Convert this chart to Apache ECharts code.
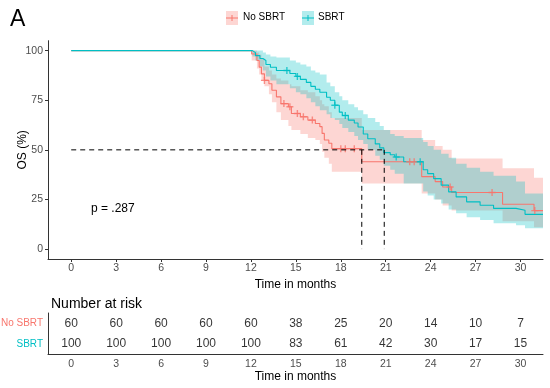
<!DOCTYPE html>
<html><head><meta charset="utf-8">
<script src="https://cdn.jsdelivr.net/npm/echarts@6/dist/echarts.min.js"></script>
<style>html,body{margin:0;padding:0;background:#fff}#c{width:550px;height:388px}</style>
</head><body><div id="c"></div>
<script>
// ---------- data ----------
const groupNames = ['No SBRT', 'SBRT'];
const endTime = 31.5;

const noTime  = [0, 12.05, 12.4, 12.55, 12.7, 12.9, 13.2, 13.4, 13.7, 14.0, 14.5, 14.7, 15.3, 15.8, 16.3, 16.6, 16.75, 16.9, 17.2, 17.4, 19.4, 23.4, 24.3, 24.8, 25.4, 28.8, 30.9];
const noSurv  = [100, 98.3, 95, 91.7, 88.3, 85, 83.3, 80, 76.7, 73.3, 71.7, 68.3, 66.7, 65, 63.3, 61.7, 58.3, 55, 53.3, 50.6, 44, 36.5, 34, 31.3, 28.5, 22.6, 19.4];
const noUpper = [100, 100, 99, 98, 96, 92, 90, 88, 86, 85, 83, 82, 80, 79, 77, 75, 73, 72, 69, 66, 60, 55, 52, 50, 45.7, 40.7, 36];
const noLower = [100, 95, 91, 88, 85, 82, 78, 74, 69, 65, 62, 60, 58, 56, 55, 53, 49, 46, 43, 39, 33, 28, 25, 22, 19.5, 14, 11];
const noCensor = [12.9, 14.2, 14.6, 15.1, 15.5, 16.1, 18.0, 18.3, 18.9, 22.6, 22.9, 25.3, 28.1, 30.95];

const sbTime  = [0, 12.1, 12.3, 12.6, 12.8, 13.0, 13.3, 13.7, 14.6, 15.0, 15.3, 15.7, 16.0, 16.3, 16.6, 17.05, 17.3, 17.6, 17.9, 18.1, 18.5, 18.9, 19.15, 19.5, 19.8, 20.3, 20.6, 20.87, 21.3, 21.6, 22.2, 23.5, 23.8, 24.2, 24.7, 25.2, 25.7, 26.4, 27.3, 28.2, 29.7, 30.3];
const sbSurv  = [100, 99, 97.5, 96, 95, 93, 91.6, 90, 88.5, 87, 85.5, 84, 82, 80.5, 79, 76.5, 75, 72.5, 69, 67.3, 65, 63.5, 61.5, 58, 55.6, 53, 51, 48.6, 47.5, 46.4, 44, 40, 38, 35.5, 32.2, 28.8, 26.3, 23.8, 22.1, 20.5, 19.6, 17.5];
const sbUpper = [100, 100, 100, 100, 99, 98, 97, 96.5, 95, 94, 93, 92, 90, 89, 88, 84, 82, 79, 77, 75, 73, 71.5, 70, 68, 66, 64, 62, 60, 58, 57, 56, 54, 52, 50, 48, 46, 43, 41, 39, 37, 34, 28];
const sbLower = [100, 97, 95, 92, 90, 87, 85, 83, 81, 79, 78, 76, 74, 72, 70, 68, 66, 65, 63, 61, 59, 57, 55, 53, 50, 47, 45, 42, 40, 38, 33, 29, 27, 25, 23, 20, 18, 16, 14.6, 13, 12, 10.5];
const sbCensor = [14.4, 15.1, 17.6, 18.3, 21.7, 23.3];

const medianTimes = [19.4, 20.9];
const medianLevel = 50;
const pValueText = 'p = .287';

const xTicks = [0, 3, 6, 9, 12, 15, 18, 21, 24, 27, 30];
const yTicks = [0, 25, 50, 75, 100];
const riskTimes = [0, 3, 6, 9, 12, 15, 18, 21, 24, 27, 30];
const riskNo = [60, 60, 60, 60, 60, 38, 25, 20, 14, 10, 7];
const riskSb = [100, 100, 100, 100, 100, 83, 61, 42, 30, 17, 15];

// ---------- helpers ----------
const RED = '#F8766D', TEAL = '#00BFC4';
const FONT = '"Liberation Sans", Arial, sans-serif';
const PLUS = 'path://M4,0L6,0L6,4L10,4L10,6L6,6L6,10L4,10L4,6L0,6L0,4L4,4Z';

function lineData(T, S) {
  const d = T.map((t, i) => [t, S[i]]);
  d.push([endTime, S[S.length - 1]]);
  return d;
}
function stepPts(T, V) {
  const p = [];
  for (let i = 0; i < T.length; i++) {
    const next = i + 1 < T.length ? T[i + 1] : endTime;
    p.push([T[i], V[i]]); p.push([next, V[i]]);
  }
  return p;
}
function survAt(T, S, t) {
  let v = S[0];
  for (let i = 0; i < T.length; i++) if (T[i] <= t) v = S[i];
  return v;
}
function bandSeries(T, U, L, color) {
  return {
    type: 'custom', xAxisIndex: 0, yAxisIndex: 0, clip: true, silent: true, z: 1,
    data: [[0, 100]],
    renderItem: function (params, api) {
      const up = stepPts(T, U);
      const lo = stepPts(T, L).reverse();
      const pts = up.concat(lo).map(p => api.coord(p));
      return { type: 'polygon', shape: { points: pts }, style: { fill: color, opacity: 0.3 } };
    }
  };
}
function kmLine(T, S, color) {
  return { type: 'line', xAxisIndex: 0, yAxisIndex: 0, step: 'end', data: lineData(T, S),
    showSymbol: false, symbol: 'none', lineStyle: { color: color, width: 1.1 }, z: 3, silent: true };
}
function censor(T, S, C, color) {
  return { type: 'scatter', xAxisIndex: 0, yAxisIndex: 0, symbol: PLUS, symbolSize: 7,
    itemStyle: { color: color }, data: C.map(t => [t, survAt(T, S, t)]), z: 4, silent: true };
}
function dashed(data) {
  return { type: 'line', xAxisIndex: 0, yAxisIndex: 0, data: data, symbol: 'none', z: 5, silent: true,
    lineStyle: { color: '#000', width: 1, type: [5, 4] } };
}

const axisLineStyle = { show: true, onZero: false, lineStyle: { color: '#333', width: 1 } };
const tickStyle = { lineStyle: { color: '#333', width: 1 }, length: 3 };
const tickLabel = { color: '#4D4D4D', fontSize: 10.5, fontFamily: FONT };

const chart = echarts.init(document.getElementById('c'), null, { renderer: 'canvas' });
chart.setOption({
  backgroundColor: '#fff',
  animation: false,
  title: [
    { text: 'A', left: 5, top: 3, textStyle: { fontSize: 23, fontWeight: 'normal', color: '#000', fontFamily: FONT } },
    { text: 'Number at risk', left: 46, top: 292, textStyle: { fontSize: 14, fontWeight: 'normal', color: '#000', fontFamily: FONT } }
  ],
  grid: [
    { left: 48, right: 7, top: 40.7, height: 218.3, containLabel: false, outerBoundsMode: 'none' },
    { left: 48, right: 7, top: 313, height: 41.3, containLabel: false, outerBoundsMode: 'none' }
  ],
  xAxis: [
    { type: 'value', gridIndex: 0, min: -1.55, max: 31.5, splitLine: { show: false },
      axisLine: axisLineStyle, axisTick: Object.assign({ customValues: xTicks }, tickStyle),
      axisLabel: Object.assign({ customValues: xTicks, margin: 4 }, tickLabel),
      name: 'Time in months', nameLocation: 'middle', nameGap: 11,
      nameTextStyle: { fontSize: 12, color: '#000', fontFamily: FONT, verticalAlign: 'top' } },
    { type: 'value', gridIndex: 1, min: -1.55, max: 31.5, splitLine: { show: false },
      axisLine: axisLineStyle, axisTick: Object.assign({ customValues: riskTimes }, tickStyle),
      axisLabel: Object.assign({ customValues: riskTimes, margin: 4 }, tickLabel),
      name: 'Time in months', nameLocation: 'middle', nameGap: 16,
      nameTextStyle: { fontSize: 12, color: '#000', fontFamily: FONT, verticalAlign: 'top' } }
  ],
  yAxis: [
    { type: 'value', gridIndex: 0, min: -5, max: 105, splitLine: { show: false },
      axisLine: axisLineStyle, axisTick: Object.assign({ customValues: yTicks }, tickStyle),
      axisLabel: Object.assign({ customValues: yTicks, margin: 5 }, tickLabel),
      name: 'OS (%)', nameLocation: 'middle', nameGap: 25, nameRotate: 90, nameMoveOverlap: false,
      nameTextStyle: { fontSize: 12, color: '#000', fontFamily: FONT, verticalAlign: 'middle' } },
    { type: 'category', gridIndex: 1, data: [groupNames[1], groupNames[0]], splitLine: { show: false },
      axisLine: axisLineStyle, axisTick: Object.assign({ alignWithLabel: true }, tickStyle),
      axisLabel: { fontSize: 10, fontFamily: FONT, margin: 5,
        color: function (v) { return v === groupNames[0] ? RED : TEAL; } } }
  ],
  graphic: [
    { type: 'rect', left: 226, top: 11, shape: { width: 12, height: 14 }, style: { fill: 'rgba(248,118,109,0.3)' } },
    { type: 'line', shape: { x1: 226, y1: 18, x2: 238, y2: 18 }, style: { stroke: RED, lineWidth: 1 } },
    { type: 'line', shape: { x1: 232, y1: 15, x2: 232, y2: 21 }, style: { stroke: RED, lineWidth: 1 } },
    { type: 'text', left: 243, top: 12, style: { text: groupNames[0], fontSize: 10, fill: '#000', fontFamily: FONT } },
    { type: 'rect', left: 302, top: 11, shape: { width: 12, height: 14 }, style: { fill: 'rgba(0,191,196,0.3)' } },
    { type: 'line', shape: { x1: 302, y1: 18, x2: 314, y2: 18 }, style: { stroke: TEAL, lineWidth: 1 } },
    { type: 'line', shape: { x1: 308, y1: 15, x2: 308, y2: 21 }, style: { stroke: TEAL, lineWidth: 1 } },
    { type: 'text', left: 318, top: 12, style: { text: groupNames[1], fontSize: 10, fill: '#000', fontFamily: FONT } },
    { type: 'text', left: 91, top: 203, style: { text: pValueText, fontSize: 12, fill: '#000', fontFamily: FONT } }
  ],
  series: [
    bandSeries(noTime, noUpper, noLower, RED),
    bandSeries(sbTime, sbUpper, sbLower, TEAL),
    kmLine(noTime, noSurv, RED),
    kmLine(sbTime, sbSurv, TEAL),
    censor(noTime, noSurv, noCensor, RED),
    censor(sbTime, sbSurv, sbCensor, TEAL),
    dashed([[0, medianLevel], [Math.max.apply(null, medianTimes), medianLevel]]),
    dashed([[medianTimes[0], medianLevel], [medianTimes[0], 0]]),
    dashed([[medianTimes[1], medianLevel], [medianTimes[1], 0]]),
    { type: 'scatter', xAxisIndex: 1, yAxisIndex: 1, symbolSize: 0, silent: true,
      data: riskTimes.map((t, i) => [t, groupNames[0], riskNo[i]]),
      label: { show: true, position: 'inside', formatter: p => String(p.value[2]), color: '#000', fontSize: 12, fontFamily: FONT } },
    { type: 'scatter', xAxisIndex: 1, yAxisIndex: 1, symbolSize: 0, silent: true,
      data: riskTimes.map((t, i) => [t, groupNames[1], riskSb[i]]),
      label: { show: true, position: 'inside', formatter: p => String(p.value[2]), color: '#000', fontSize: 12, fontFamily: FONT } }
  ]
});
</script></body></html>
